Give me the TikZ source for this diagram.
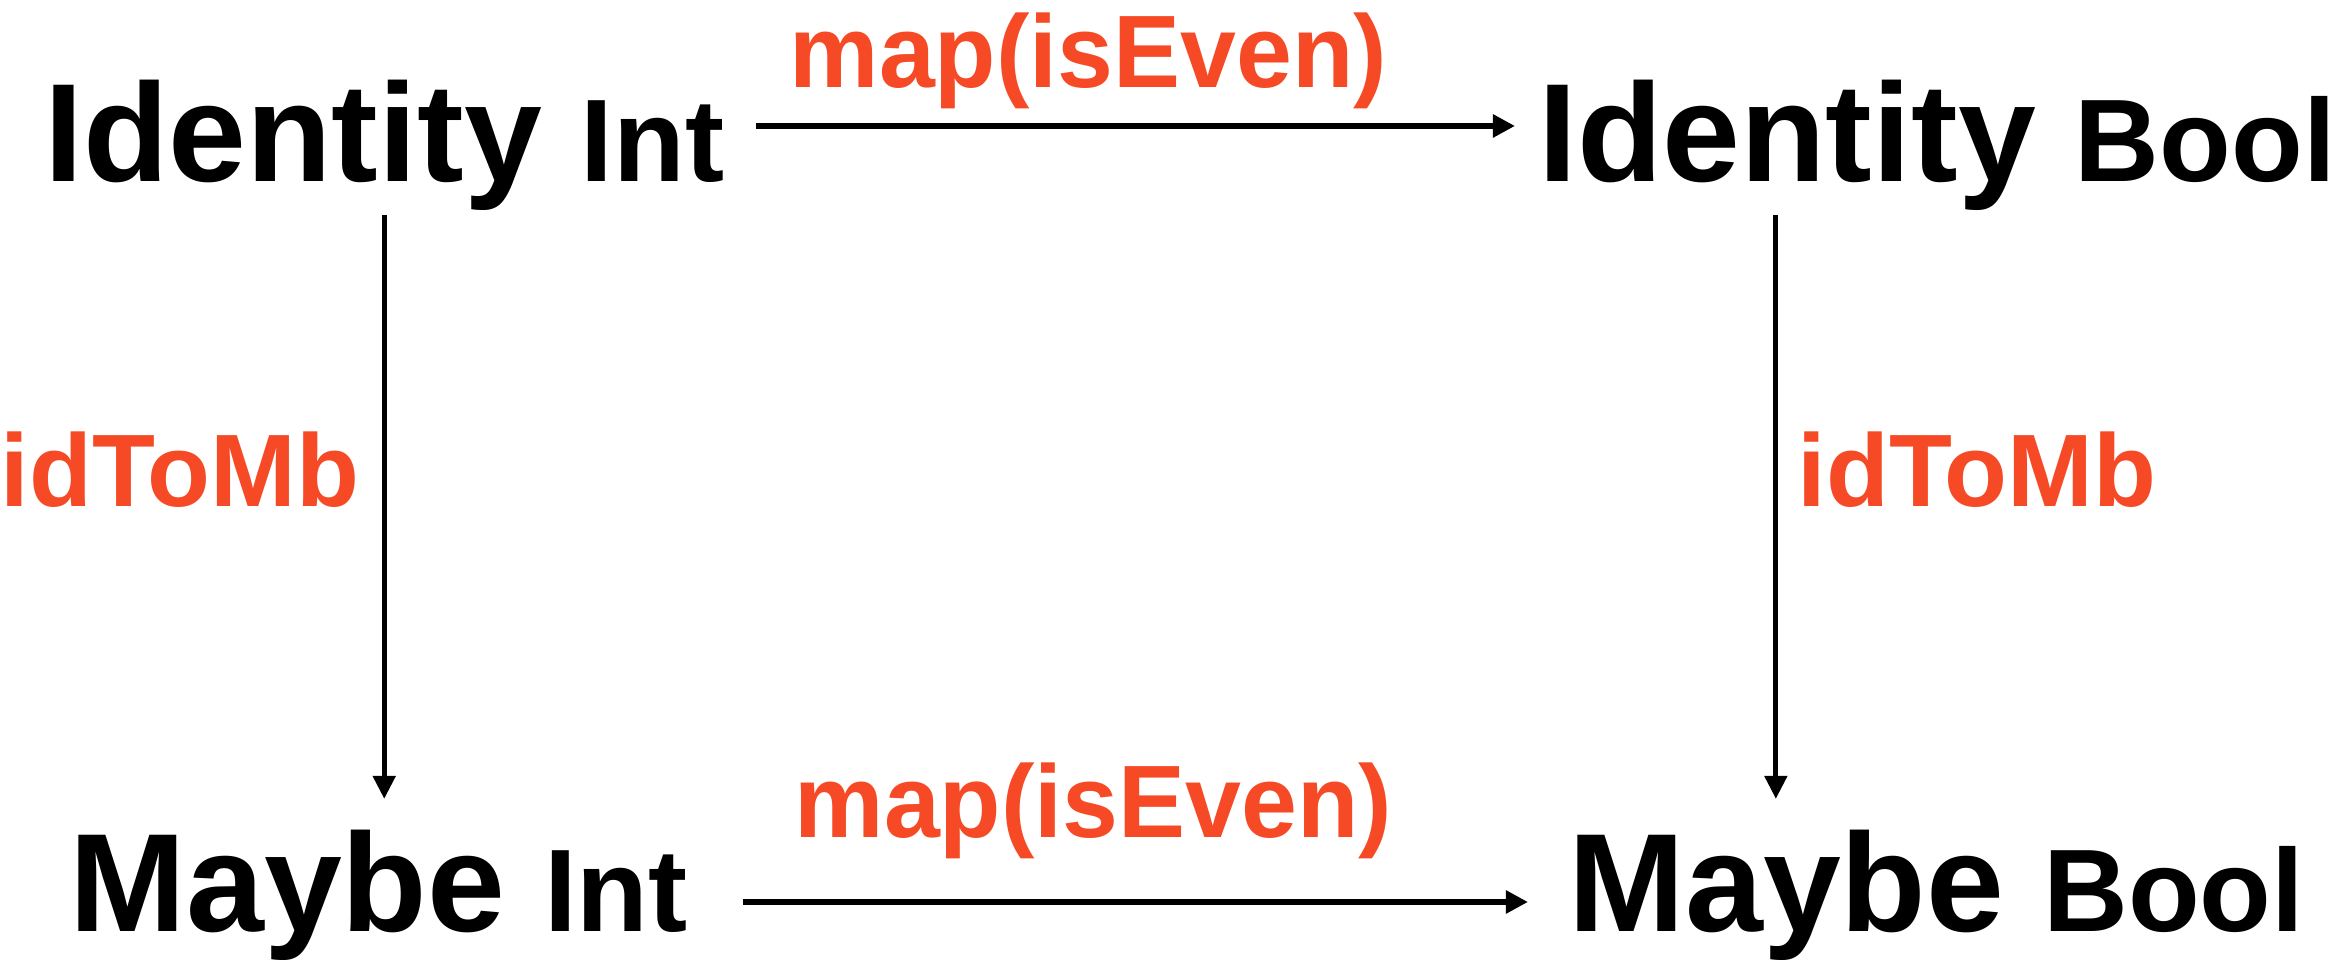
\documentclass[tikz,border=0pt]{standalone}
\usepackage{fontspec}
\setmainfont{Liberation Sans}
\newfontfamily\mapfont{Liberation Sans}[FakeStretch=0.975]
\usetikzlibrary{arrows.meta}
\definecolor{fred}{RGB}{246,74,38}
\newcommand{\argfont}{\fontsize{33.4pt}{36pt}\selectfont}

\begin{document}
\begin{tikzpicture}[x=0.01cm,y=-0.01cm,
  type/.style={anchor=base west,inner sep=0pt,font=\fontsize{39.8pt}{44pt}\selectfont\bfseries},
  lbl/.style={anchor=base west,inner sep=0pt,text=fred,font=\fontsize{29.3pt}{32pt}\selectfont\bfseries},
  hor/.style={line width=0.06cm,-{Triangle[length=0.22cm,width=0.22cm]}},
  ver/.style={line width=0.05cm,-{Triangle[length=0.23cm,width=0.22cm]}}]

\useasboundingbox (0,0) rectangle (2332,975);

%types
\node[type] at (43.5,181) (idInt) {Identity {\argfont Int}};
\node[type] at (1537.5,181) (idBool) {Identity {\argfont Bool}};
\node[type] at (69,931) (mbInt) {Maybe {\argfont Int}};
\node[type] at (1568,931) (mbBool) {Maybe {\argfont Bool}};

%labels
\node[lbl] at (789,87) (mapTop) {\mapfont map(isEven)};
\node[lbl] at (794,837) (mapBot) {\mapfont map(isEven)};
\node[lbl] at (0,506) (tomLeft) {idToMb};
\node[lbl] at (1797,506) (tomRight) {idToMb};

%arrows
\draw[hor,shorten <=0.315cm,shorten >=0.225cm] ([yshift=0.55cm]idInt.base east) -- ([yshift=0.55cm]idBool.base west);
\draw[hor,shorten <=0.55cm,shorten >=0.40cm] ([yshift=0.29cm]mbInt.base east) -- ([yshift=0.29cm]mbBool.base west);
\draw[ver,shorten <=0.04cm,shorten >=0.30cm] (idInt.south) -- (idInt.south |- mbInt.north);
\draw[ver,shorten <=0.04cm,shorten >=0.30cm] ([xshift=-1.61cm]idBool.south) -- ([xshift=-1.61cm]idBool.south |- mbBool.north);

\end{tikzpicture}
\end{document}
